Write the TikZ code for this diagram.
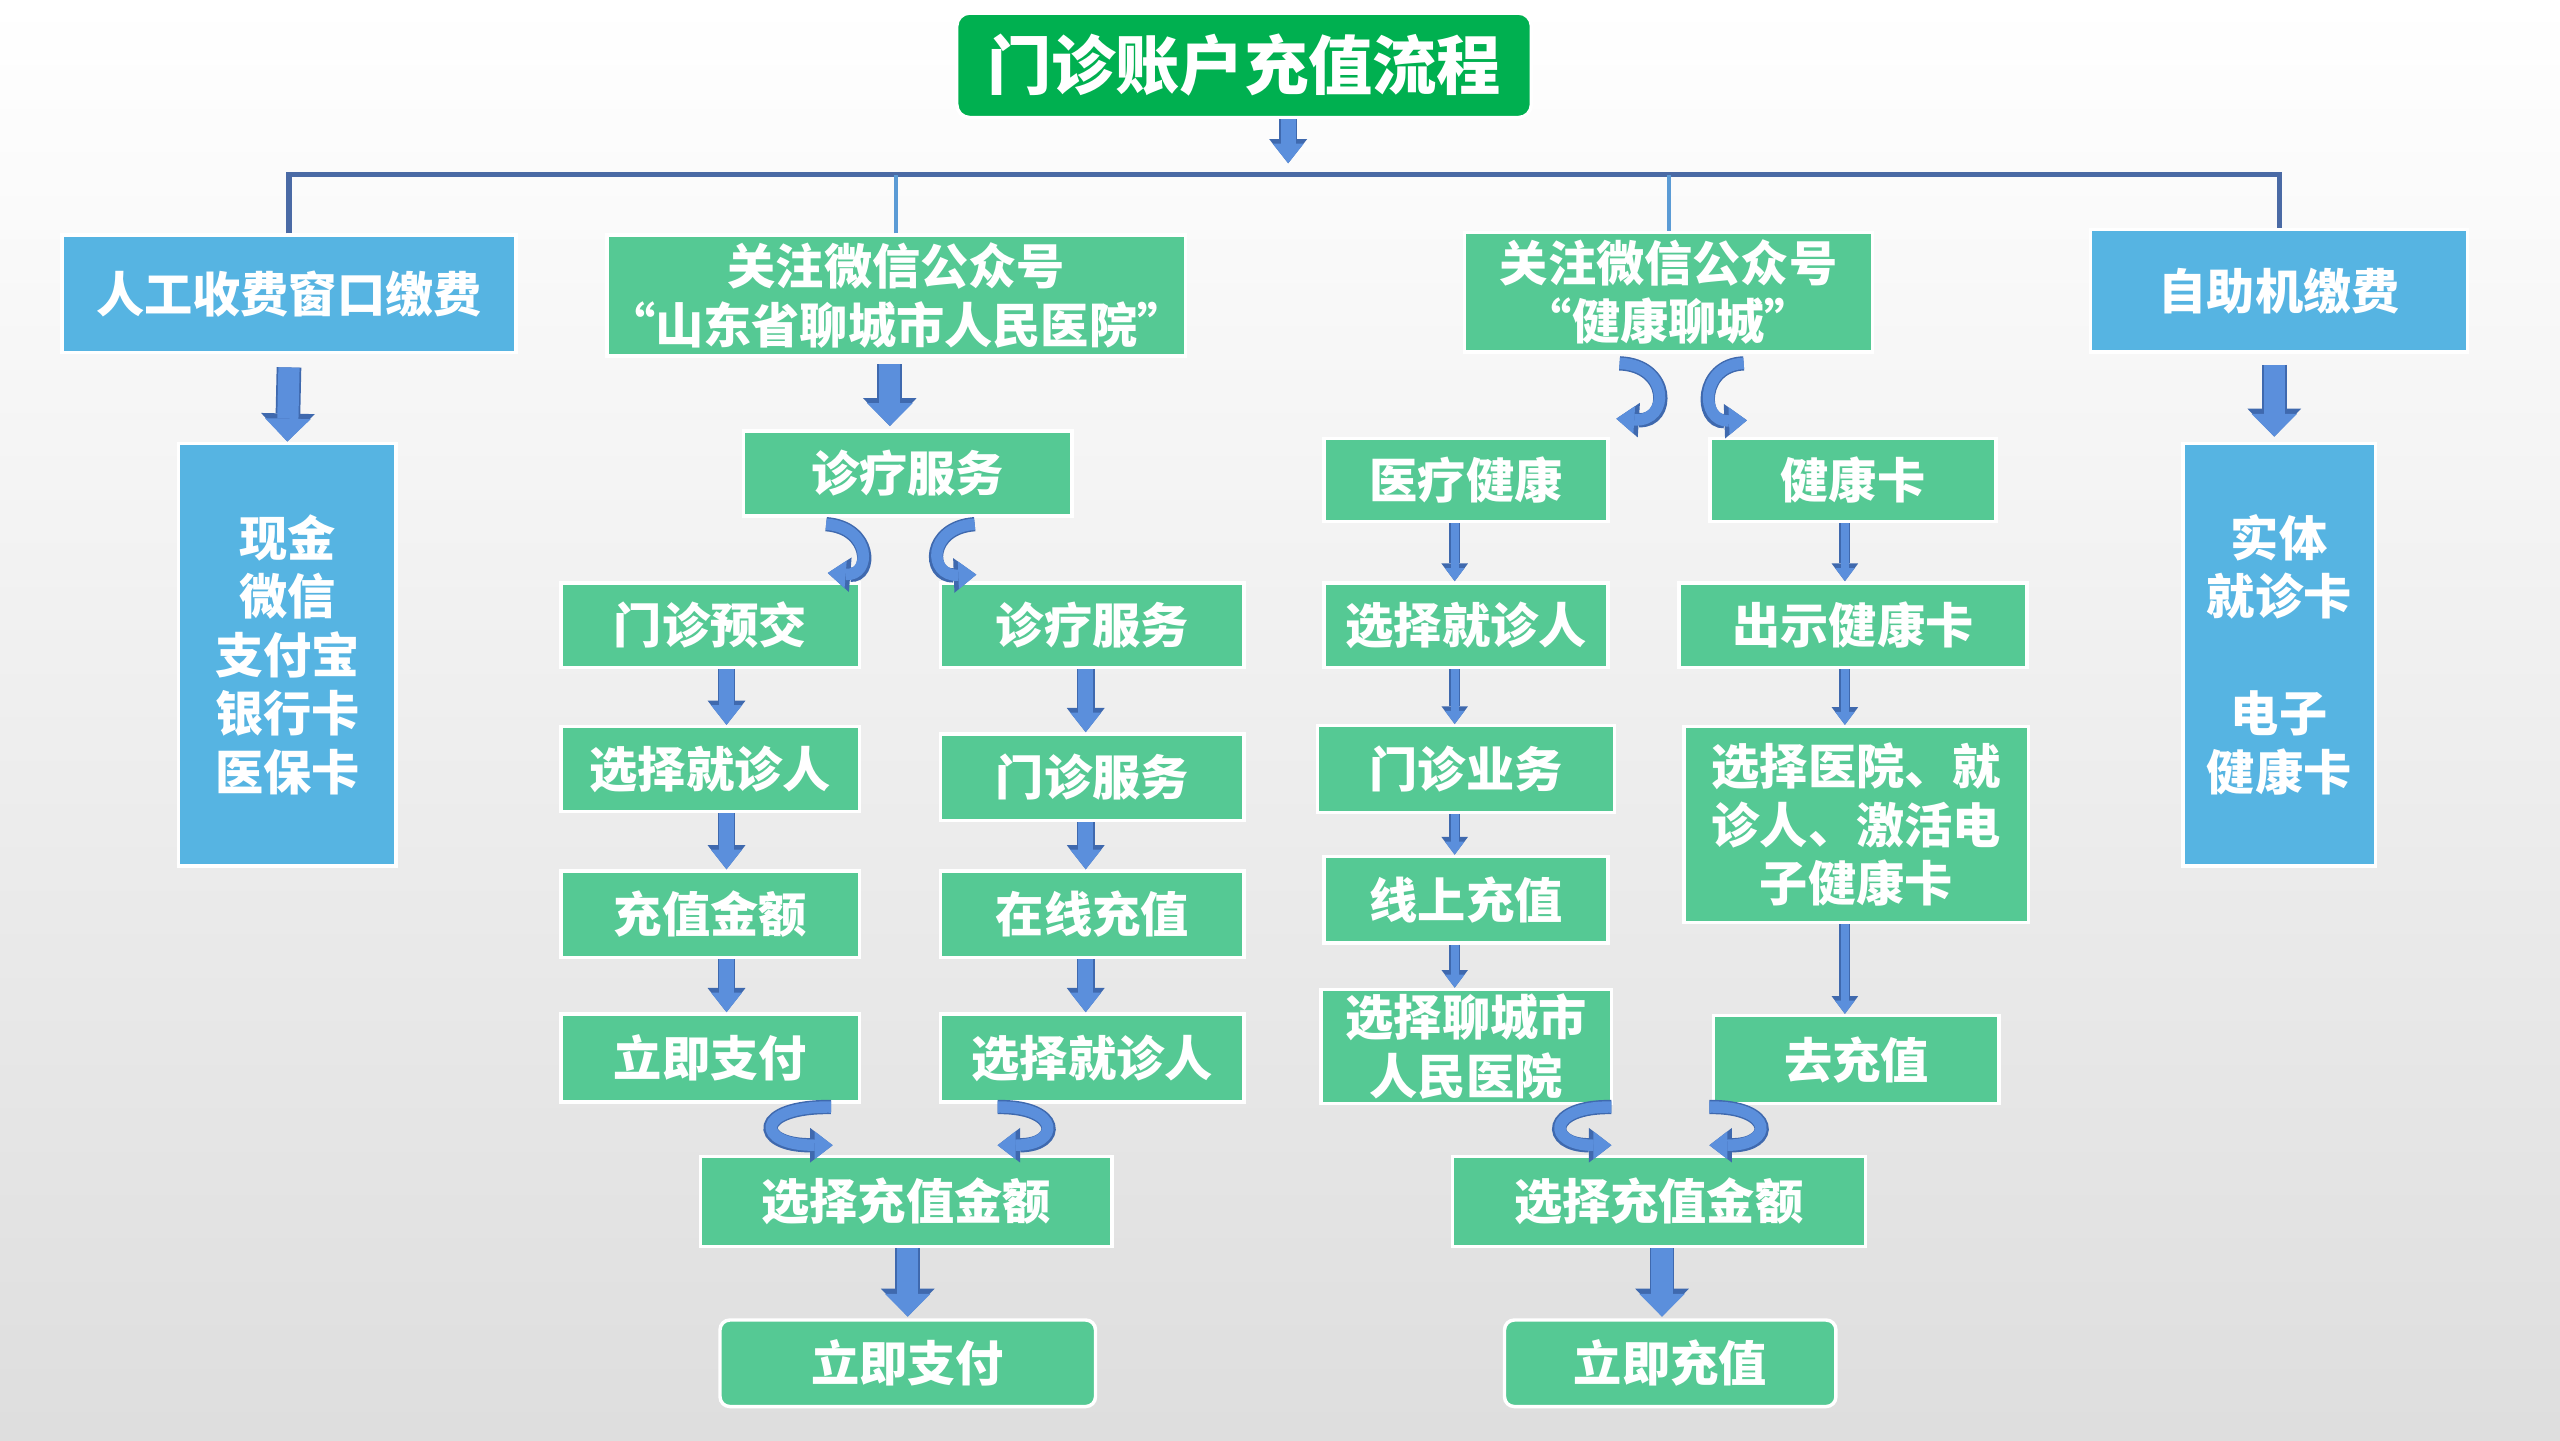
\documentclass[tikz,border=0pt]{standalone}
\usepackage{fontspec}
\newfontfamily\cjk{Noto Sans CJK SC}
\usetikzlibrary{arrows.meta, calc}

\definecolor{boxgreen}{HTML}{55C994}
\definecolor{boxblue}{HTML}{56B4E2}
\definecolor{titlegreen}{HTML}{00B050}
\definecolor{arrowfill}{HTML}{5B8FDC}
\definecolor{arrowline}{HTML}{3F69AE}
\definecolor{treeblue}{HTML}{4A6AA5}
\definecolor{dropblue}{HTML}{5B9BD5}

\tikzset{
  gbox/.style={draw=white, line width=0.6pt, fill=boxgreen, text=white, inner sep=0pt, align=center,
    font=\cjk\bfseries\fontsize{8.4}{10.2}\selectfont},
  bbox/.style={gbox, fill=boxblue},
  endbox/.style={gbox, rounded corners=0.6mm},
  bigarrow/.style={draw=arrowfill, line width=1.3mm, -{Triangle[width=2.8mm,length=1.4mm,line width=0pt]},
    preaction={draw=arrowline, line width=1.3mm+0.6pt, -{Triangle[width=2.8mm+1.4pt,length=1.4mm+0.9pt,line width=0pt]}}},
  midarrow/.style={draw=arrowfill, line width=0.9mm, -{Triangle[width=1.9mm,length=1.2mm,line width=0pt]},
    preaction={draw=arrowline, line width=0.9mm+0.5pt, -{Triangle[width=1.9mm+1.2pt,length=1.2mm+0.8pt,line width=0pt]}}},
  thinarrow/.style={draw=arrowfill, line width=0.5mm, -{Triangle[width=1.2mm,length=0.8mm,line width=0pt]},
    preaction={draw=arrowline, line width=0.5mm+0.5pt, -{Triangle[width=1.2mm+1.2pt,length=0.8mm+0.8pt,line width=0pt]}}},
  curl/.style={draw=arrowfill, line width=0.7mm, -{Triangle[width=1.7mm,length=1.1mm,line width=0pt]},
    preaction={draw=arrowline, line width=0.7mm+0.5pt, -{Triangle[width=1.7mm+1.2pt,length=1.1mm+0.8pt,line width=0pt]}}},
  treeline/.style={draw=treeblue, line width=0.9pt},
  dropline/.style={draw=dropblue, line width=0.7pt},
}

\begin{document}
\begin{tikzpicture}[x=0.1mm, y=-0.1mm]
    % Fondo
    \shade[top color=white, bottom color=black!13] (0,0) rectangle (1568,882);
    \useasboundingbox (0,0) rectangle (1568,882);

    % Titulo y primer nivel
    \node (title) [gbox, fill=titlegreen, rounded corners=0.8mm, minimum width=35.2mm, minimum height=6.4mm,
        font=\cjk\bfseries\fontsize{11.2}{13}\selectfont] at (762,40) {门诊账户充值流程};
    \coordinate (bus) at (789,107);
    \node (rg) [bbox, minimum width=27.8mm, minimum height=7.2mm] at (177,180) {人工收费窗口缴费};
    \node (sd) [gbox, minimum width=34.6mm, minimum height=7.4mm] at (549,181) {关注微信公众号\\“山东省聊城市人民医院”};
    \node (jk) [gbox, minimum width=25mm, minimum height=7.3mm] at (1022,179) {关注微信公众号\\“健康聊城”};
    \node (zz) [bbox, minimum width=23.1mm, minimum height=7.5mm] at (1396,178) {自助机缴费};

    % Columnas laterales
    \node (pay) [bbox, minimum width=13.3mm, minimum height=25.9mm] at (176,401) {现金\\微信\\支付宝\\银行卡\\医保卡};
    \node (card) [bbox, minimum width=11.8mm, minimum height=25.9mm] at (1396,401) {实体\\就诊卡\\[10.2pt]电子\\健康卡};

    % Rama del hospital
    \node (zl) [gbox, minimum width=20.1mm, minimum height=5.2mm] at (556,290) {诊疗服务};
    \node (mzyj) [gbox, minimum width=18.3mm, minimum height=5.2mm] at (435,383) {门诊预交};
    \node (xzjzra) [gbox, minimum width=18.3mm, minimum height=5.2mm] at (435,471) {选择就诊人};
    \node (czje) [gbox, minimum width=18.3mm, minimum height=5.3mm] at (435,560) {充值金额};
    \node (ljzfa) [gbox, minimum width=18.3mm, minimum height=5.4mm] at (435,648) {立即支付};
    \node (zlfw) [gbox, minimum width=18.6mm, minimum height=5.2mm] at (669,383) {诊疗服务};
    \node (mzfw) [gbox, minimum width=18.6mm, minimum height=5.3mm] at (669,476) {门诊服务};
    \node (zxcz) [gbox, minimum width=18.6mm, minimum height=5.3mm] at (669,560) {在线充值};
    \node (xzjzrb) [gbox, minimum width=18.6mm, minimum height=5.4mm] at (669,648) {选择就诊人};
    \node (xzcza) [gbox, minimum width=25.2mm, minimum height=5.5mm] at (555,736) {选择充值金额};
    \node (ljzf) [endbox, minimum width=23mm, minimum height=5.3mm] at (556,835) {立即支付};

    % Rama de Jiankang Liaocheng
    \node (ylj) [gbox, minimum width=17.4mm, minimum height=5.1mm] at (898,294) {医疗健康};
    \node (xzjzrc) [gbox, minimum width=17.4mm, minimum height=5.2mm] at (898,383) {选择就诊人};
    \node (mzyw) [gbox, minimum width=18.2mm, minimum height=5.3mm] at (898,471) {门诊业务};
    \node (xscz) [gbox, minimum width=17.4mm, minimum height=5.3mm] at (898,551) {线上充值};
    \node (xzlc) [gbox, minimum width=17.8mm, minimum height=7mm] at (898,641) {选择聊城市\\人民医院};
    \node (jkk) [gbox, minimum width=17.5mm, minimum height=5.1mm] at (1135,294) {健康卡};
    \node (cskk) [gbox, minimum width=21.3mm, minimum height=5.2mm] at (1135,383) {出示健康卡};
    \node (jhk) [gbox, minimum width=21.1mm, minimum height=12mm] at (1137,505) {选择医院、就\\诊人、激活电\\子健康卡};
    \node (qcz) [gbox, minimum width=17.5mm, minimum height=5.4mm] at (1137,649) {去充值};
    \node (xzczb) [gbox, minimum width=25.3mm, minimum height=5.5mm] at (1016,736) {选择充值金额};
    \node (ljcz) [endbox, minimum width=20.3mm, minimum height=5.3mm] at (1023,835) {立即充值};

    % Lineas del arbol
    \draw[midarrow] (title.south -| bus) -- ($(bus)+(0,-7)$);
    \draw[treeline] (rg.north) |- (bus) -| (zz.north);
    \draw[dropline] (sd.north) -- (sd.north |- bus);
    \draw[dropline] (jk.north) -- (jk.north |- bus);

    % Flechas rectas
    \draw[bigarrow] ($(rg.south)+(0,8)$) -- (pay.north);
    \draw[bigarrow] ($(zz.south)+(-3,7)$) -- ($(card.north)+(-3,-3)$);
    \draw[bigarrow] ($(sd.south)+(-4,4)$) -- ($(zl.north)+(-11,-2)$);
    \draw[midarrow] ($(mzyj.south)+(10,0)$) -- ($(xzjzra.north)+(10,0)$);
    \draw[midarrow] ($(xzjzra.south)+(10,0)$) -- ($(czje.north)+(10,0)$);
    \draw[midarrow] ($(czje.south)+(10,0)$) -- ($(ljzfa.north)+(10,0)$);
    \draw[midarrow] ($(zlfw.south)+(-4,0)$) -- ($(mzfw.north)+(-4,0)$);
    \draw[midarrow] ($(mzfw.south)+(-4,0)$) -- ($(zxcz.north)+(-4,0)$);
    \draw[midarrow] ($(zxcz.south)+(-4,0)$) -- ($(xzjzrb.north)+(-4,0)$);
    \draw[bigarrow] ($(xzcza.south)+(1,0)$) -- ($(ljzf.north)+(0,-1)$);
    \draw[thinarrow] ($(ylj.south)+(-7,0)$) -- ($(xzjzrc.north)+(-7,0)$);
    \draw[thinarrow] ($(xzjzrc.south)+(-7,0)$) -- ($(mzyw.north)+(-7,0)$);
    \draw[thinarrow] ($(mzyw.south)+(-7,0)$) -- ($(xscz.north)+(-7,0)$);
    \draw[thinarrow] ($(xscz.south)+(-7,0)$) -- ($(xzlc.north)+(-7,0)$);
    \draw[thinarrow] ($(jkk.south)+(-5,0)$) -- ($(cskk.north)+(-5,0)$);
    \draw[thinarrow] ($(cskk.south)+(-5,0)$) -- ($(jhk.north)+(-7,0)$);
    \draw[thinarrow] ($(jhk.south)+(-7,0)$) -- ($(qcz.north)+(-7,0)$);
    \draw[bigarrow] ($(xzczb.south)+(2,0)$) -- ($(ljcz.north)+(-5,-1)$);

    % Flechas curvas
    \draw[curl] ($(zl.south)+(-50,4)$) .. controls ($(zl.south)+(-22,6)$) and ($(zl.south)+(-22,36)$) .. ($(mzyj.north)+(72,-5)$);
    \draw[curl] ($(zl.south)+(41,4)$) .. controls ($(zl.south)+(12,6)$) and ($(zl.south)+(12,36)$) .. ($(zlfw.north)+(-71,-4)$);
    \draw[curl] ($(jk.south)+(-30,6)$) .. controls ($(jk.south)+(1,7)$) and ($(jk.south)+(1,42)$) .. ($(ylj.north)+(92,-11)$);
    \draw[curl] ($(jk.south)+(46,6)$) .. controls ($(jk.south)+(19,7)$) and ($(jk.south)+(19,42)$) .. ($(jkk.north)+(-65,-10)$);
    \draw[curl] ($(ljzfa.south)+(74,2)$) .. controls ($(xzcza.north)+(-93,-30)$) and ($(xzcza.north)+(-93,-6)$) .. ($(xzcza.north)+(-45,-6)$);
    \draw[curl] ($(xzjzrb.south)+(-58,2)$) .. controls ($(xzcza.north)+(95,-30)$) and ($(xzcza.north)+(95,-6)$) .. ($(xzcza.north)+(56,-6)$);
    \draw[curl] ($(xzlc.south)+(89,1)$) .. controls ($(xzczb.north)+(-69,-30)$) and ($(xzczb.north)+(-69,-6)$) .. ($(xzczb.north)+(-29,-6)$);
    \draw[curl] ($(qcz.south)+(-90,1)$) .. controls ($(xzczb.north)+(71,-30)$) and ($(xzczb.north)+(71,-6)$) .. ($(xzczb.north)+(31,-6)$);
\end{tikzpicture}
\end{document}
